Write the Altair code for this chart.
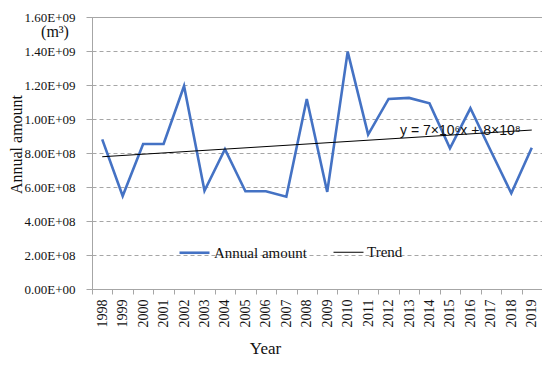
import altair as alt
import pandas as pd

years = [str(y) for y in range(1998, 2020)]
annual = [0.880e9, 0.547e9, 0.853e9, 0.853e9, 1.194e9, 0.578e9, 0.822e9, 0.575e9,
          0.575e9, 0.543e9, 1.118e9, 0.571e9, 1.396e9, 0.908e9, 1.118e9, 1.124e9,
          1.092e9, 0.828e9, 1.063e9, 0.812e9, 0.563e9, 0.831e9]
trend_years = ["1998", "2019"]
trend_vals = [0.778e9, 0.935e9]
series_names = ["Annual amount", "Trend"]
series_colors = ["#4472C4", "#000000"]
y_ticks = [0, 2e8, 4e8, 6e8, 8e8, 1.0e9, 1.2e9, 1.4e9, 1.6e9]

df = pd.DataFrame({
    "year": years + trend_years,
    "value": annual + trend_vals,
    "series": [series_names[0]] * len(years) + [series_names[1]] * len(trend_years),
})

SERIF = "Times New Roman, Liberation Serif, serif"

label_expr = ("datum.value == 0 ? '0.00E+00' : "
              "format(datum.value / pow(10, floor(log(datum.value) / LN10 + 1e-9)), '.2f') + 'E+' + "
              "(floor(log(datum.value) / LN10 + 1e-9) < 10 ? '0' : '') + floor(log(datum.value) / LN10 + 1e-9)")

legend = alt.Legend(
    title=None, orient="none", legendX=86, legendY=219, direction="horizontal",
    symbolType="stroke", symbolSize=900, labelFont=SERIF, labelFontSize=15,
    labelColor="#111", labelOffset=3, columnPadding=24, padding=0,
)

lines = alt.Chart(df).mark_line().encode(
    x=alt.X("year:O", sort=years,
            scale=alt.Scale(type="band", paddingInner=0, paddingOuter=0),
            axis=alt.Axis(title="Year", labelAngle=270, labelAlign="right",
                          labelBaseline="middle", labelFont=SERIF, labelFontSize=14,
                          labelColor="#111", labelPadding=5, tickBand="extent",
                          tickSize=5, tickColor="#a6a6a6", domainColor="#a6a6a6",
                          grid=False, titleFont=SERIF, titleFontSize=17,
                          titleFontWeight="normal", titleColor="#111",
                          titleX=173, titleY=64, titleAlign="center",
                          titleBaseline="alphabetic")),
    y=alt.Y("value:Q", scale=alt.Scale(domain=[0, 1.6e9], nice=False),
            axis=alt.Axis(title="Annual amount", values=y_ticks, labelExpr=label_expr,
                          labelFont=SERIF, labelFontSize=13, labelColor="#111",
                          labelPadding=11, tickSize=6, tickColor="#a6a6a6",
                          domainColor="#a6a6a6", grid=True, gridColor="#a6a6a6",
                          gridDash=[4, 3], titleFont=SERIF, titleFontSize=16,
                          titleFontWeight="normal", titleColor="#111",
                          titleAngle=270, titleX=-71, titleY=127, titleAlign="center",
                          titleBaseline="alphabetic")),
    color=alt.Color("series:N", scale=alt.Scale(domain=series_names, range=series_colors),
                    legend=legend),
    strokeWidth=alt.StrokeWidth("series:N", scale=alt.Scale(domain=series_names, range=[2.6, 1.0]),
                                legend=legend),
    detail="series:N",
)

eq_text = alt.Chart(pd.DataFrame({"t": ["y = 7×10⁶x + 8×10⁸"]})).mark_text(
    align="left", baseline="alphabetic", font="Liberation Sans, Arial, sans-serif",
    fontSize=14, color="#111"
).encode(x=alt.value(308), y=alt.value(118), text="t:N")

unit_text = alt.Chart(pd.DataFrame({"t": ["(m³)"]})).mark_text(
    align="center", baseline="middle", font=SERIF, fontSize=16, color="#111"
).encode(x=alt.value(-37), y=alt.value(15), text="t:N")

chart = alt.layer(lines, eq_text, unit_text).properties(
    width=450, height=272,
    padding={"left": 84, "top": 9, "right": 0, "bottom": 68},
    autosize=alt.AutoSizeParams(type="none"),
).configure_view(
    stroke="#a6a6a6", strokeWidth=1
).configure_axis(
    labelFont=SERIF, titleFont=SERIF
).configure_axisY(
    labelFont=SERIF, labelFontSize=13
)

chart.save("out.html", embed_options={"renderer": "svg", "actions": False})
